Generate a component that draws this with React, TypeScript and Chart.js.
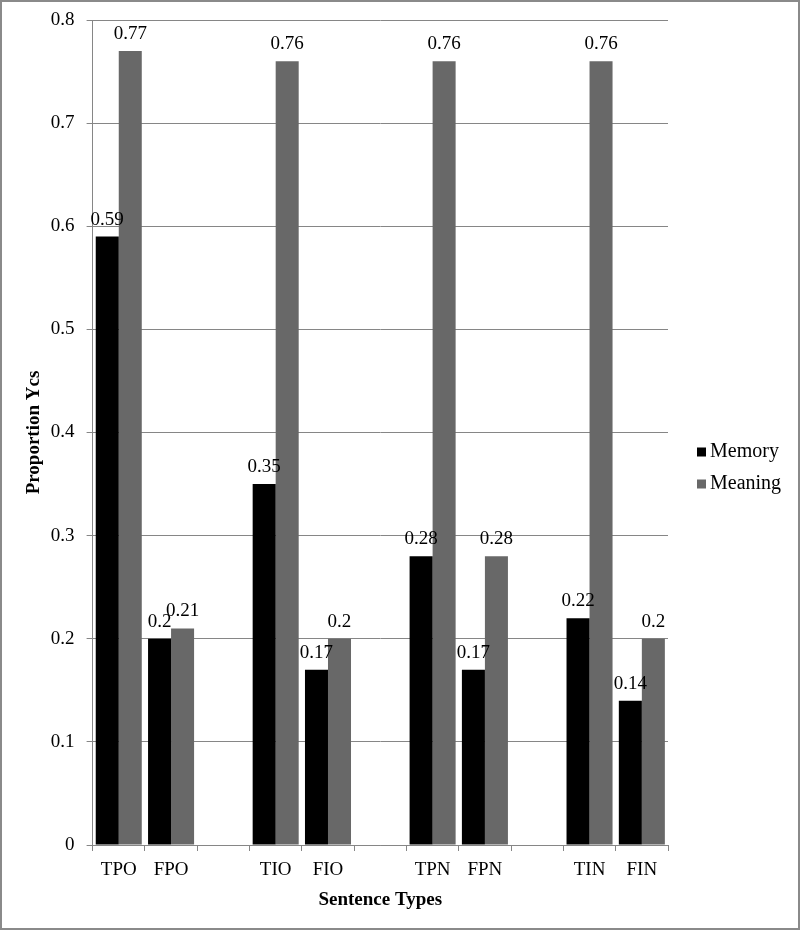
import React, { useEffect, useRef } from "react";
import { Chart, registerables } from "chart.js";

Chart.register(...registerables);

const categories = ["TPO", "FPO", "", "TIO", "FIO", "", "TPN", "FPN", "", "TIN", "FIN"];
const memoryValues = [0.59, 0.2, null, 0.35, 0.17, null, 0.28, 0.17, null, 0.22, 0.14];
const meaningValues = [0.77, 0.21, null, 0.76, 0.2, null, 0.76, 0.28, null, 0.76, 0.2];
const seriesNames = ["Memory", "Meaning"];
const seriesColors = ["#000000", "#686868"];
const yTicks = [0, 0.1, 0.2, 0.3, 0.4, 0.5, 0.6, 0.7, 0.8];

const FONT = "'Liberation Serif', 'Times New Roman', serif";
const GRID = "#868686";

const valueLabels = {
  id: "valueLabels",
  afterDatasetsDraw(chart: any) {
    const ctx = chart.ctx;
    ctx.save();
    ctx.font = `19px ${FONT}`;
    ctx.fillStyle = "#000";
    ctx.textAlign = "center";
    ctx.textBaseline = "alphabetic";
    chart.data.datasets.forEach((ds: any, di: number) => {
      const meta = chart.getDatasetMeta(di);
      meta.data.forEach((el: any, i: number) => {
        const v = ds.data[i];
        if (v === null || v === undefined) return;
        ctx.fillText(String(v), el.x, el.y - 12);
      });
    });
    ctx.restore();
  },
};

const sideLegend = {
  id: "sideLegend",
  afterDraw(chart: any) {
    const ctx = chart.ctx;
    const area = chart.chartArea;
    const x = area.right + 29;
    const cy = chart.height / 2 - 13;
    ctx.save();
    ctx.font = `20px ${FONT}`;
    ctx.textBaseline = "middle";
    ctx.textAlign = "left";
    chart.data.datasets.forEach((ds: any, i: number) => {
      const y = cy + i * 32;
      ctx.fillStyle = ds.backgroundColor;
      ctx.fillRect(x, y - 4.5, 9, 9);
      ctx.fillStyle = "#000";
      ctx.fillText(ds.label, x + 13, y);
    });
    ctx.restore();
  },
};

export default function App() {
  const ref = useRef<HTMLCanvasElement | null>(null);

  useEffect(() => {
    if (!ref.current) return;
    const chart = new Chart(ref.current, {
      type: "bar",
      data: {
        labels: categories,
        datasets: [
          {
            label: seriesNames[0],
            data: memoryValues,
            backgroundColor: seriesColors[0],
            categoryPercentage: 0.88,
            barPercentage: 1,
          },
          {
            label: seriesNames[1],
            data: meaningValues,
            backgroundColor: seriesColors[1],
            categoryPercentage: 0.88,
            barPercentage: 1,
          },
        ],
      },
      options: {
        responsive: false,
        animation: false,
        layout: { padding: { left: 16.6, right: 130, top: 18, bottom: 17 } },
        plugins: {
          legend: { display: false },
          tooltip: { enabled: false },
        },
        scales: {
          x: {
            afterFit(axis: any) {
              axis.height = 66;
              axis.paddingLeft = 0;
              axis.paddingRight = 0;
            },
            grid: {
              offset: true,
              drawOnChartArea: false,
              drawTicks: true,
              tickLength: 6,
              color: GRID,
            },
            border: { display: true, color: GRID },
            ticks: {
              autoSkip: false,
              maxRotation: 0,
              color: "#000",
              font: { family: FONT, size: 19 },
              padding: 8,
            },
            title: {
              display: true,
              text: "Sentence Types",
              color: "#000",
              font: { family: FONT, size: 19, weight: "bold" },
              padding: { top: 2, bottom: 0 },
            },
          },
          y: {
            min: 0,
            max: 0.8,
            afterBuildTicks(axis: any) {
              axis.ticks = yTicks.map((v) => ({ value: v }));
            },
            afterFit(axis: any) {
              axis.width = 74;
              axis.paddingTop = 0;
              axis.paddingBottom = 0;
            },
            grid: { color: GRID, tickLength: 6, drawTicks: true },
            border: { display: true, color: GRID },
            ticks: {
              color: "#000",
              font: { family: FONT, size: 19 },
              padding: 12,
              callback: (v: any) => String(Number(Number(v).toFixed(1))),
            },
            title: {
              display: true,
              text: "Proportion Ycs",
              color: "#000",
              font: { family: FONT, size: 19, weight: "bold" },
              padding: 4,
            },
          },
        },
      },
      plugins: [valueLabels, sideLegend],
    });
    return () => chart.destroy();
  }, []);

  return (
    <div
      style={{
        position: "absolute",
        left: 0,
        top: 0,
        width: 800,
        height: 930,
        boxSizing: "border-box",
        border: "2px solid #8a8a8a",
        background: "#fff",
      }}
    >
      <canvas ref={ref} width={796} height={926} style={{ display: "block" }} />
    </div>
  );
}
